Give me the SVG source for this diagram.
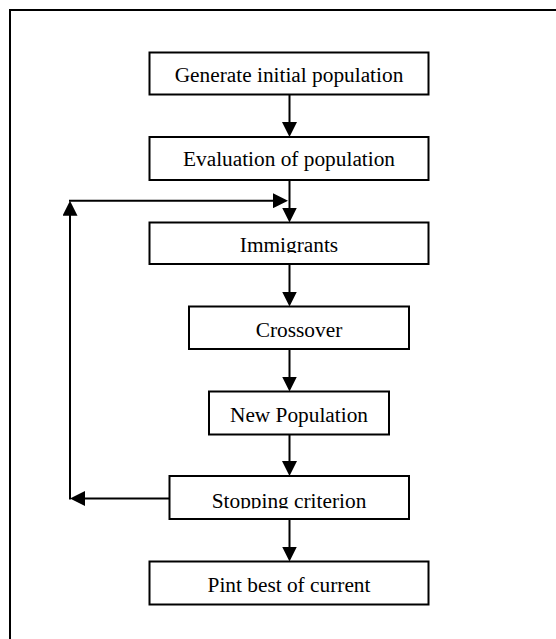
<svg xmlns="http://www.w3.org/2000/svg" width="556" height="639" viewBox="0 0 556 639">
<style>
.box{fill:#fff;stroke:#000;stroke-width:2}
.lbl{font-family:"Liberation Serif","Times New Roman",serif;font-size:21.33px;fill:#000;text-anchor:middle}
.con{fill:none;stroke:#000;stroke-width:2;marker-end:url(#ah)}
</style>
<defs>
<marker id="ah" markerUnits="userSpaceOnUse" markerWidth="15" markerHeight="15" refX="12" refY="7.5" orient="auto">
<path d="M0,0 L15,7.5 L0,15 z" fill="#000"/>
</marker>
<clipPath id="clipImm"><rect x="140" y="222" width="300" height="31"/></clipPath>
<clipPath id="clipStop"><rect x="160" y="476" width="260" height="32.5"/></clipPath>
</defs>
<rect width="556" height="639" fill="#fff"/>
<path d="M10,639 V10 H556" fill="none" stroke="#000" stroke-width="2"/>
<g id="connectors">
<line class="con" x1="289.5" y1="94.5" x2="289.5" y2="134"/>
<line class="con" x1="289.5" y1="180" x2="289.5" y2="219.5"/>
<line class="con" x1="289.5" y1="264" x2="289.5" y2="303.5"/>
<line class="con" x1="289.5" y1="349" x2="289.5" y2="388.5"/>
<line class="con" x1="289.5" y1="434.5" x2="289.5" y2="473"/>
<line class="con" x1="289.5" y1="519" x2="289.5" y2="558.5"/>
<line class="con" x1="169.5" y1="498.5" x2="73" y2="498.5"/>
<line class="con" x1="70" y1="499.5" x2="70" y2="203.7"/>
<line class="con" x1="69" y1="200.7" x2="285" y2="200.7"/>
</g>
<g id="n1"><rect class="box" x="149.5" y="52.5" width="279" height="42"/><text class="lbl" x="289" y="81.7">Generate initial population</text></g>
<g id="n2"><rect class="box" x="149.5" y="137" width="279" height="43"/><text class="lbl" x="289" y="166">Evaluation of population</text></g>
<g id="n3"><rect class="box" x="149.5" y="222.5" width="279" height="41.5"/><text class="lbl" x="289" y="252" clip-path="url(#clipImm)">Immigrants</text></g>
<g id="n4"><rect class="box" x="189" y="306.5" width="220" height="42.5"/><text class="lbl" x="299" y="336.7">Crossover</text></g>
<g id="n5"><rect class="box" x="209" y="391.5" width="180" height="43"/><text class="lbl" x="299" y="421.7">New Population</text></g>
<g id="n6"><rect class="box" x="169.5" y="476" width="239.5" height="43"/><text class="lbl" x="289" y="507.7" clip-path="url(#clipStop)">Stopping criterion</text></g>
<g id="n7"><rect class="box" x="149.5" y="561.5" width="279" height="43"/><text class="lbl" x="289" y="591.7">Pint best of current</text></g>
</svg>
